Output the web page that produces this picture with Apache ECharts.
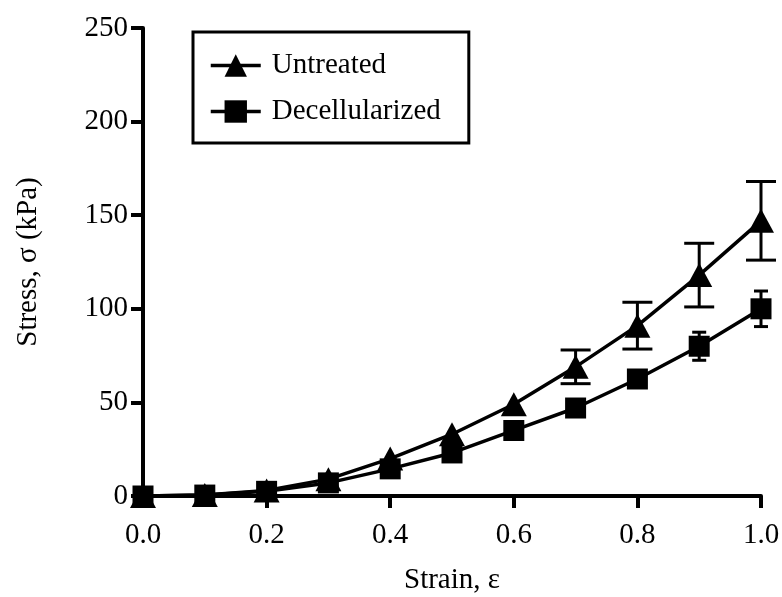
<!DOCTYPE html>
<html>
<head>
<meta charset="utf-8">
<script src="https://cdn.jsdelivr.net/npm/echarts@6/dist/echarts.min.js"></script>
<style>
  html, body { margin: 0; padding: 0; background: #fff; }
  #main { width: 782px; height: 597px; }
</style>
</head>
<body>
<div id="main"></div>
<script>
// strain values (x)
var strain = [0, 0.1, 0.2, 0.3, 0.4, 0.5, 0.6, 0.7, 0.8, 0.9, 1.0];
// stress, kPa
var untreated = [0, 0.5, 3, 9, 20, 33, 49, 69, 91, 118, 147];
var untreatedErr = [0, 0, 0.5, 1, 1.5, 2, 3, 9, 12.5, 17, 21];
var decell = [0, 0.5, 2.5, 7, 14.5, 23, 35, 47, 62.5, 80, 100];
var decellErr = [0, 0, 0.5, 1, 1.5, 2, 3, 3, 4, 7.5, 9.5];
var yTicks = [0, 50, 100, 150, 200, 250];

var FONT = 'Liberation Serif';
var chart = echarts.init(document.getElementById('main'));

function errData(means, errs) {
  return strain.map(function (x, i) {
    return [x, means[i] - errs[i], means[i] + errs[i]];
  });
}

// error bar renderer, GraphPad style: hidden when shorter than the symbol
function errRender(capW, minPx) {
  return function (params, api) {
    var x = api.value(0);
    var lo = api.coord([x, api.value(1)]);
    var hi = api.coord([x, api.value(2)]);
    if ((lo[1] - hi[1]) / 2 < minPx) return;
    var st = { stroke: '#000', lineWidth: 3 };
    return {
      type: 'group',
      children: [
        { type: 'line', shape: { x1: lo[0], y1: lo[1], x2: hi[0], y2: hi[1] }, style: st },
        { type: 'line', shape: { x1: hi[0] - capW / 2, y1: hi[1], x2: hi[0] + capW / 2, y2: hi[1] }, style: st },
        { type: 'line', shape: { x1: lo[0] - capW / 2, y1: lo[1], x2: lo[0] + capW / 2, y2: lo[1] }, style: st }
      ]
    };
  };
}

var option = {
  backgroundColor: '#fff',
  animation: false,
  textStyle: { fontFamily: FONT, color: '#000' },
  grid: { left: 143, right: 21, top: 28, bottom: 101, outerBoundsMode: 'none', containLabel: false },
  legend: {
    left: 193,
    top: 32,
    orient: 'vertical',
    data: ['Untreated', 'Decellularized'],
    backgroundColor: '#fff',
    borderColor: '#000',
    borderWidth: 3,
    borderRadius: 0,
    padding: [19, 28, 17, 16],
    itemWidth: 50,
    itemHeight: 28,
    itemGap: 17,
    lineStyle: { width: 3.5, color: '#000' },
    textStyle: { fontFamily: FONT, fontSize: 29, color: '#000', padding: [0, 0, 0, 6] }
  },
  xAxis: {
    type: 'value',
    min: 0,
    max: 1,
    interval: 0.2,
    name: 'Strain, ε',
    nameLocation: 'middle',
    nameGap: 70,
    nameTextStyle: { fontFamily: FONT, fontSize: 29, color: '#000' },
    splitLine: { show: false },
    axisLine: { show: true, onZero: false, lineStyle: { color: '#000', width: 4, cap: 'round' } },
    axisTick: { show: true, inside: false, length: 12, lineStyle: { color: '#000', width: 4 } },
    axisLabel: {
      fontFamily: FONT, fontSize: 29, color: '#000', margin: 25,
      formatter: function (v) { return v.toFixed(1); }
    }
  },
  yAxis: {
    type: 'value',
    min: yTicks[0],
    max: yTicks[yTicks.length - 1],
    interval: 50,
    name: 'Stress, σ (kPa)',
    nameLocation: 'middle',
    nameGap: 100,
    nameTextStyle: { fontFamily: FONT, fontSize: 29, color: '#000' },
    splitLine: { show: false },
    axisLine: { show: true, onZero: false, lineStyle: { color: '#000', width: 4, cap: 'round' } },
    axisTick: { show: true, inside: false, length: 12, lineStyle: { color: '#000', width: 4 } },
    axisLabel: { fontFamily: FONT, fontSize: 29, color: '#000', margin: 15 }
  },
  series: [
    {
      name: 'Untreated',
      type: 'line',
      data: strain.map(function (x, i) { return [x, untreated[i]]; }),
      symbol: 'triangle',
      symbolSize: [26, 24],
      showAllSymbol: true,
      clip: false,
      z: 4,
      lineStyle: { color: '#000', width: 3.5 },
      itemStyle: { color: '#000', borderWidth: 0 }
    },
    {
      name: 'Decellularized',
      type: 'line',
      data: strain.map(function (x, i) { return [x, decell[i]]; }),
      symbol: 'rect',
      symbolSize: 21,
      showAllSymbol: true,
      clip: false,
      z: 4,
      lineStyle: { color: '#000', width: 3.5 },
      itemStyle: { color: '#000', borderWidth: 0 }
    },
    {
      type: 'custom',
      name: 'untreatedErr',
      renderItem: errRender(30, 11),
      data: errData(untreated, untreatedErr),
      encode: { x: 0, y: [1, 2] },
      clip: false,
      z: 3
    },
    {
      type: 'custom',
      name: 'decellErr',
      renderItem: errRender(14, 10),
      data: errData(decell, decellErr),
      encode: { x: 0, y: [1, 2] },
      clip: false,
      z: 3
    }
  ]
};

chart.setOption(option);
</script>
</body>
</html>
